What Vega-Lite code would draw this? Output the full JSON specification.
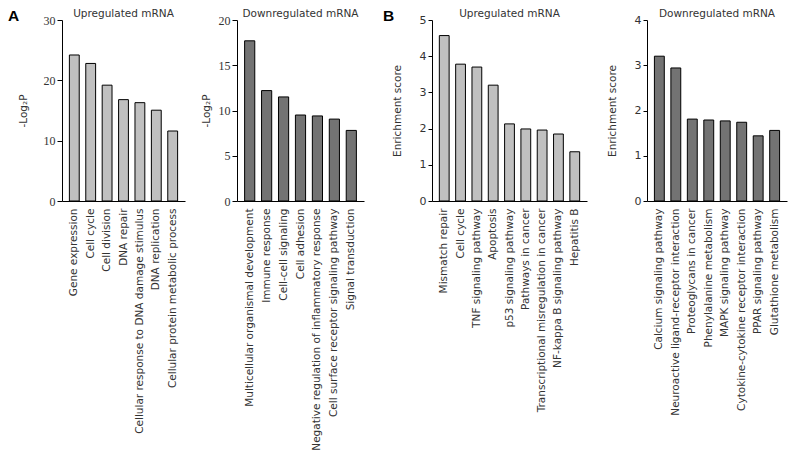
{
  "$schema": "https://vega.github.io/schema/vega-lite/v6.json",
  "padding": {"left": 8, "top": 8, "right": 5, "bottom": 5},
  "background": "white",
  "config": {
    "view": {"stroke": null},
    "font": "DejaVu Sans",
    "axis": {"domainColor": "#000", "tickColor": "#000", "labelColor": "#333", "titleColor": "#333", "grid": false, "labelFontSize": 10.5, "titleFontSize": 10.5, "titleFontWeight": "normal", "domainWidth": 1},
    "axisX": {"ticks": false, "labelAngle": -90, "labelLimit": 300, "labelPadding": 7, "title": null},
    "axisY": {"tickSize": 5, "labelPadding": 2, "titlePadding": 8},
    "title": {"fontSize": 10.5, "fontWeight": "normal", "color": "#333", "offset": -5},
    "bar": {"stroke": "#000", "strokeWidth": 1},
    "scale": {"bandPaddingInner": 0.4, "bandPaddingOuter": 0.45}
  },
  "datasets": {
    "a1": [
      {"term": "Gene expression", "value": 24.2},
      {"term": "Cell cycle", "value": 22.8},
      {"term": "Cell division", "value": 19.2},
      {"term": "DNA repair", "value": 16.8},
      {"term": "Cellular response to DNA damage stimulus", "value": 16.3},
      {"term": "DNA replication", "value": 15.05},
      {"term": "Cellular protein metabolic process", "value": 11.6}
    ],
    "a2": [
      {"term": "Multicellular organismal development", "value": 17.7},
      {"term": "Immune response", "value": 12.2},
      {"term": "Cell-cell signaling", "value": 11.5},
      {"term": "Cell adhesion", "value": 9.5},
      {"term": "Negative regulation of inflammatory response", "value": 9.4},
      {"term": "Cell surface receptor signaling pathway", "value": 9.05},
      {"term": "Signal transduction", "value": 7.8}
    ],
    "b1": [
      {"term": "Mismatch repair", "value": 4.57},
      {"term": "Cell cycle", "value": 3.78},
      {"term": "TNF signaling pathway", "value": 3.7},
      {"term": "Apoptosis", "value": 3.2},
      {"term": "p53  signaling pathway", "value": 2.13},
      {"term": "Pathways in cancer", "value": 1.99},
      {"term": "Transcriptional misregulation in cancer", "value": 1.96},
      {"term": "NF-kappa B signaling pathway", "value": 1.85},
      {"term": "Hepatitis B", "value": 1.36}
    ],
    "b2": [
      {"term": "Calcium signaling pathway", "value": 3.2},
      {"term": "Neuroactive ligand-receptor interaction", "value": 2.94},
      {"term": "Proteoglycans in cancer", "value": 1.81},
      {"term": "Phenylalanine metabolism", "value": 1.79},
      {"term": "MAPK signaling pathway", "value": 1.77},
      {"term": "Cytokine-cytokine receptor interaction", "value": 1.74},
      {"term": "PPAR signaling pathway", "value": 1.44},
      {"term": "Glutathione metabolism", "value": 1.56}
    ]
  },
  "spacing": 19,
  "hconcat": [
    {
      "title": {"text": "A", "anchor": "start", "fontSize": 15.5, "fontWeight": "bold", "font": "Liberation Sans", "color": "#000", "dy": 11, "dx": -10},
      "spacing": 16,
      "hconcat": [
        {
          "data": {"name": "a1"},
          "width": 123, "height": 181,
          "title": "Upregulated mRNA",
          "mark": {"type": "bar", "fill": "#c0c0c0"},
          "encoding": {
            "x": {"field": "term", "type": "nominal", "sort": null},
            "y": {"field": "value", "type": "quantitative", "scale": {"domain": [0, 30]}, "axis": {"title": "-Log₂P", "titlePadding": 15, "values": [0, 10, 20, 30], "labelFont": "Liberation Serif", "labelFontSize": 12}}
          }
        },
        {
          "data": {"name": "a2"},
          "width": 127, "height": 181,
          "title": "Downregulated mRNA",
          "mark": {"type": "bar", "fill": "#737373"},
          "encoding": {
            "x": {"field": "term", "type": "nominal", "sort": null},
            "y": {"field": "value", "type": "quantitative", "scale": {"domain": [0, 20]}, "axis": {"title": "-Log₂P", "titlePadding": 7, "values": [0, 5, 10, 15, 20], "labelFont": "Liberation Serif", "labelFontSize": 12}}
          }
        }
      ]
    },
    {
      "title": {"text": "B", "anchor": "start", "fontSize": 15.5, "fontWeight": "bold", "font": "Liberation Sans", "color": "#000", "dy": 11, "dx": -9},
      "spacing": 20,
      "hconcat": [
        {
          "data": {"name": "b1"},
          "width": 155, "height": 181,
          "title": "Upregulated mRNA",
          "mark": {"type": "bar", "fill": "#c0c0c0"},
          "encoding": {
            "x": {"field": "term", "type": "nominal", "sort": null},
            "y": {"field": "value", "type": "quantitative", "scale": {"domain": [0, 5]}, "axis": {"title": "Enrichment score", "titlePadding": 17, "tickSize": 4, "values": [0, 1, 2, 3, 4, 5], "labelFontSize": 11}}
          }
        },
        {
          "data": {"name": "b2"},
          "width": 140, "height": 181,
          "title": "Downregulated mRNA",
          "mark": {"type": "bar", "fill": "#737373"},
          "encoding": {
            "x": {"field": "term", "type": "nominal", "sort": null},
            "y": {"field": "value", "type": "quantitative", "scale": {"domain": [0, 4]}, "axis": {"title": "Enrichment score", "titlePadding": 17, "tickSize": 4, "values": [0, 1, 2, 3, 4], "labelFontSize": 11}}
          }
        }
      ]
    }
  ]
}
